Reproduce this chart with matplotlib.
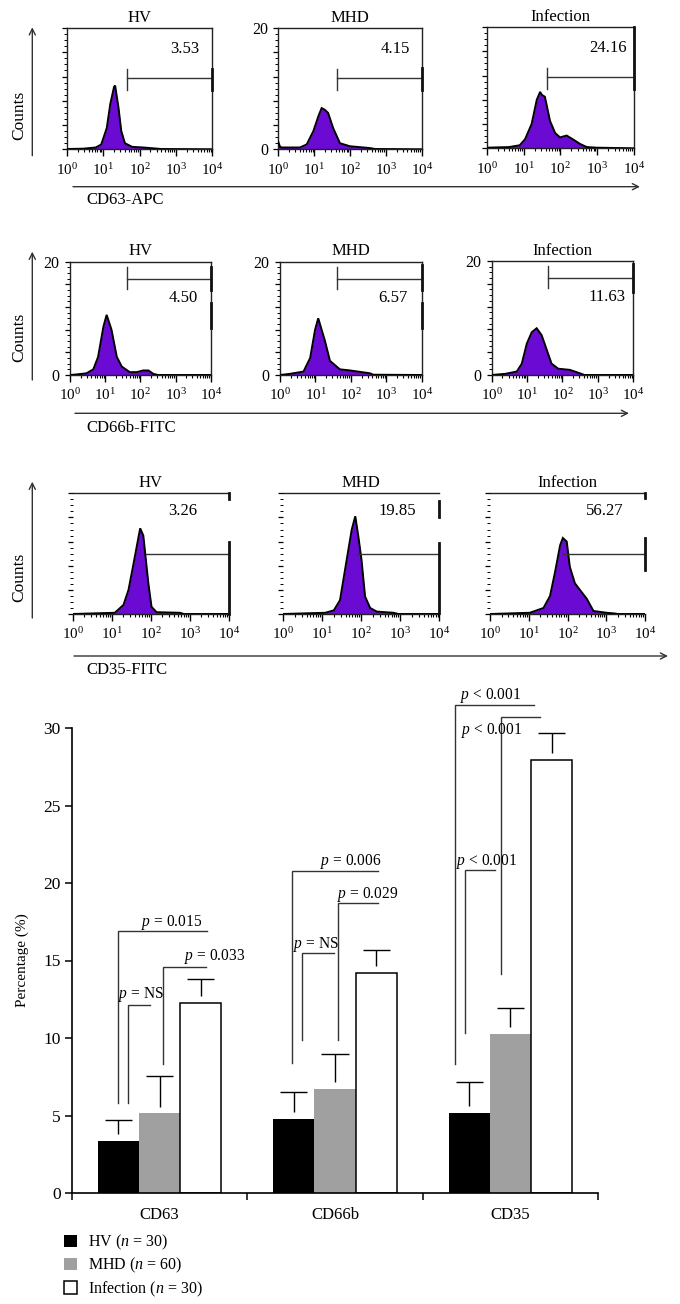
import numpy as np
import matplotlib
matplotlib.use('Agg')
import matplotlib.pyplot as plt
from matplotlib.ticker import FixedLocator, NullFormatter, FixedFormatter, LogLocator

plt.rcParams['font.family'] = ['Liberation Serif', 'DejaVu Serif']
plt.rcParams['mathtext.fontset'] = 'custom'
plt.rcParams['mathtext.rm'] = 'Liberation Serif'
plt.rcParams['mathtext.it'] = 'Liberation Serif:italic'
plt.rcParams['mathtext.bf'] = 'Liberation Serif:bold'

# ---------------- data ----------------
groups = ['HV', 'MHD', 'Infection']
markers = ['CD63', 'CD66b', 'CD35']
channel_labels = ['CD63-APC', 'CD66b-FITC', 'CD35-FITC']
legend_labels = ['HV ($n$ = 30)', 'MHD ($n$ = 60)', 'Infection ($n$ = 30)']

# bar chart: mean percentage and SD (CD63, CD66b, CD35)
hv_mean = [3.37, 4.75, 5.15]
hv_sd = [1.33, 1.77, 2.00]
mhd_mean = [5.13, 6.68, 10.26]
mhd_sd = [2.42, 2.32, 1.70]
inf_mean = [12.25, 14.19, 27.95]
inf_sd = [1.55, 1.46, 1.70]

# gate percentages shown in histograms (HV, MHD, Infection)
cd63_pct = [3.53, 4.15, 24.16]
cd66b_pct = [4.50, 6.57, 11.63]
cd35_pct = [3.26, 19.85, 56.27]

# histogram outlines: fluorescence intensity and counts
cd63_hv_x = [1, 2.8, 6.3, 8.9, 12.6, 15.8, 20, 21.4, 26.3, 31.6, 39.8, 63, 126, 251, 398, 10000]
cd63_hv_y = [0.05, 0.1, 0.3, 0.8, 3.5, 7.5, 10.3, 10.5, 7.0, 3.0, 1.0, 0.4, 0.3, 0.15, 0.05, 0]
cd63_mhd_x = [1, 1.12, 1.26, 4.0, 6.2, 9.5, 13.2, 16.2, 20, 24.5, 33.9, 52.5, 100, 363, 500, 10000]
cd63_mhd_y = [1.2, 0.4, 0.3, 0.3, 0.8, 3.0, 5.5, 6.8, 6.5, 6.0, 3.5, 1.0, 0.5, 0.2, 0.05, 0]
cd63_inf_x = [1, 4, 7.9, 11, 16.6, 22.9, 28.2, 31.6, 38, 52.5, 72.4, 98, 148, 204, 347, 525, 1000, 10000]
cd63_inf_y = [0.1, 0.2, 0.5, 1.5, 4.0, 8.0, 9.3, 8.8, 8.5, 4.5, 2.5, 1.8, 2.1, 1.6, 0.7, 0.2, 0.1, 0]

cd66b_hv_x = [1, 1.55, 2.95, 4.6, 6.3, 8.9, 11, 15.1, 21.4, 29.5, 50, 79, 120, 170, 234, 316, 10000]
cd66b_hv_y = [0, 0.1, 0.3, 1.0, 3.2, 8.5, 10.6, 8.0, 3.2, 1.5, 0.5, 0.5, 0.8, 0.8, 0.2, 0, 0]
cd66b_mhd_x = [1, 1.9, 4.6, 7.1, 9.8, 12, 18.6, 25.7, 49, 95, 158, 347, 427, 10000]
cd66b_mhd_y = [0, 0.2, 0.6, 3.0, 8.0, 10.0, 6.0, 2.5, 1.0, 0.8, 0.6, 0.3, 0.05, 0]
cd66b_inf_x = [1, 2.4, 5.1, 7.1, 9.8, 13.5, 18.6, 25.7, 35.5, 49, 76, 162, 309, 417, 10000]
cd66b_inf_y = [0, 0.2, 0.6, 2.0, 5.5, 7.5, 8.2, 7.0, 4.5, 2.0, 1.1, 0.9, 0.3, 0, 0]

cd35_hv_x = [1, 12, 20, 27, 35.5, 47.9, 53.7, 64.6, 87, 105, 141, 562, 708, 10000]
cd35_hv_y = [0, 0.2, 1.5, 4.0, 8.0, 12.5, 14.2, 13.0, 5.1, 1.2, 0.3, 0.2, 0, 0]
cd35_mhd_x = [1, 12, 20, 28.8, 42.7, 57.5, 70.8, 85, 102, 126, 170, 251, 676, 891, 10000]
cd35_mhd_y = [0, 0.2, 0.6, 2.3, 9.0, 14.0, 16.2, 12.8, 9.0, 2.9, 1.0, 0.4, 0.2, 0, 0]
cd35_inf_x = [1, 10.7, 24, 35.5, 47.9, 64.6, 75.9, 95.5, 115, 155, 209, 316, 468, 1023, 1585, 2000, 10000]
cd35_inf_y = [0, 0.2, 1.0, 3.0, 7.0, 11.4, 12.6, 12.0, 7.8, 5.1, 4.0, 2.5, 0.5, 0.2, 0.1, 0, 0]

# ---------------- figure ----------------
W, H = 680, 1304
fig = plt.figure(figsize=(W / 100, H / 100), dpi=100)
PURPLE = '#6a0ad2'
LINE = '#333333'


def px_axes(l, t, r, b):
    return fig.add_axes([l / W, 1 - b / H, (r - l) / W, (b - t) / H])


# ------------- histogram rows -------------
rows = [
    dict(
        rects=[(66.7, 28, 212.3, 149.3), (278.3, 28, 421.7, 149.3), (486.7, 27, 634, 148.3)],
        data=[(cd63_hv_x, cd63_hv_y), (cd63_mhd_x, cd63_mhd_y), (cd63_inf_x, cd63_inf_y)],
        pct=cd63_pct, ylab=[False, True, False],
        gate_start=[45, 44, 44], gate_y=11.7, gate_tick=(9.7, 13.2),
        right_marks=[[(9.7, 13.2)], [(9.8, 13.4)], [(9.8, 20)]],
        lab_y=16.6, lab_x=[1780, 1820, 2000], full_frame=True),
    dict(
        rects=[(70, 261.5, 210.7, 375), (280, 261.5, 421.7, 375), (491.7, 261, 633.3, 375)],
        data=[(cd66b_hv_x, cd66b_hv_y), (cd66b_mhd_x, cd66b_mhd_y), (cd66b_inf_x, cd66b_inf_y)],
        pct=cd66b_pct, ylab=[True, True, True],
        gate_start=[41, 41, 40], gate_y=17.0, gate_tick=(15.2, 19.1),
        right_marks=[[(15.0, 19.1), (8.2, 12.6)], [(15.0, 19.3), (8.2, 12.6)], [(14.6, 19.4)]],
        lab_y=13.6, lab_x=[1620, 1580, 1780], full_frame=True),
    dict(
        rects=[(72.7, 493.3, 228.7, 614), (283, 493.3, 439.3, 614), (490, 493.3, 645, 614)],
        data=[(cd35_hv_x, cd35_hv_y), (cd35_mhd_x, cd35_mhd_y), (cd35_inf_x, cd35_inf_y)],
        pct=cd35_pct, ylab=[False, False, False],
        gate_start=[76, 78, 75], gate_y=9.95, gate_tick=None,
        right_marks=[[(19.0, 20), (0, 12.0)], [(16.1, 18.8), (0.2, 11.8)], [(19.3, 20), (7.3, 12.6)]],
        lab_y=17.0, lab_x=[676, 832, 933], full_frame=False),
]

for row in rows:
    for i, (rect, (hx, hy)) in enumerate(zip(row['rects'], row['data'])):
        ax = px_axes(*rect)
        ax.fill_between(hx, hy, 0, color=PURPLE, lw=0, zorder=2)
        ax.plot(hx, hy, color='black', lw=1.4, zorder=3, solid_joinstyle='miter')
        ax.set_xscale('log')
        ax.set_xlim(1, 1e4)
        ax.set_ylim(0, 20)
        ax.xaxis.set_major_locator(FixedLocator([1, 10, 100, 1000, 10000]))
        ax.xaxis.set_major_formatter(FixedFormatter(['$10^{0}$', '$10^{1}$', '$10^{2}$', '$10^{3}$', '$10^{4}$']))
        ax.xaxis.set_minor_locator(LogLocator(base=10, subs=np.arange(2, 10), numticks=20))
        ax.xaxis.set_minor_formatter(NullFormatter())
        ax.yaxis.set_major_locator(FixedLocator([0, 4, 8, 12, 16, 20]))
        ax.yaxis.set_minor_locator(FixedLocator(np.arange(0, 20, 1)))
        ax.yaxis.set_minor_formatter(NullFormatter())
        if row['ylab'][i]:
            ax.set_yticklabels(['0', '', '', '', '', '20'])
        else:
            ax.set_yticklabels([''] * 6)
        ax.tick_params(axis='x', which='major', direction='out', length=5, width=1, labelsize=10.8, pad=4)
        ax.tick_params(axis='x', which='minor', direction='out', length=2.5, width=0.8)
        ax.tick_params(axis='y', which='major', direction='out', length=3.5, width=0.9, labelsize=11.5, pad=4)
        ax.tick_params(axis='y', which='minor', direction='out', length=2.2, width=0.7)
        for s in ax.spines.values():
            s.set_linewidth(1.0)
            s.set_color('#222222')
        if not row['full_frame']:
            ax.spines['left'].set_visible(False)
            ax.spines['right'].set_visible(False)
        ax.set_title(groups[i], fontsize=12, pad=4.5)
        # gate marker
        g0 = row['gate_start'][i]
        gy = row['gate_y']
        ax.plot([g0, 1e4], [gy, gy], color=LINE, lw=1.0, clip_on=False, zorder=4)
        if row['gate_tick'] is not None:
            ax.plot([g0, g0], row['gate_tick'], color=LINE, lw=1.0, clip_on=False, zorder=4)
        for (y0, y1) in row['right_marks'][i]:
            ax.plot([1e4, 1e4], [y0, y1], color='#111111', lw=2.0, clip_on=False, zorder=4)
        ax.text(row['lab_x'][i], row['lab_y'], '%.2f' % row['pct'][i], ha='center', va='center',
                fontsize=12)

# overlay in pixel coordinates for arrows and labels
ov = fig.add_axes([0, 0, 1, 1])
ov.set_xlim(0, W)
ov.set_ylim(H, 0)
ov.axis('off')

arrow_kw = dict(arrowstyle='->', lw=1.0, color=LINE, shrinkA=0, shrinkB=0, mutation_scale=11)
x_arrows = [(73, 640, 186.7), (75, 629, 413.3), (74, 668, 656)]
y_arrows = [(32.3, 155.7, 27.3), (32.3, 380, 251.7), (32.3, 618, 481.7)]
name_y = [200, 428.3, 670.5]
counts_y = [115, 337, 577]
for (xa, xb, yy), (cx, ya, yb), ny, cy, nm in zip(x_arrows, y_arrows, name_y, counts_y, channel_labels):
    ov.annotate('', xy=(xb, yy), xytext=(xa, yy), arrowprops=arrow_kw)
    ov.annotate('', xy=(cx, yb), xytext=(cx, ya), arrowprops=arrow_kw)
    ov.text(86, ny, nm, ha='left', va='center', fontsize=12)
    ov.text(19.5, cy, 'Counts', ha='center', va='center', rotation=90, fontsize=12.5)

# ------------- bar chart -------------
axb = px_axes(72, 728, 598, 1193)
xc = np.arange(len(markers)) + 0.5
w = 0.235
b_hv = axb.bar(xc - w, hv_mean, w, color='black', lw=0, label=legend_labels[0], zorder=2)
b_mhd = axb.bar(xc, mhd_mean, w, color='#a0a0a0', lw=0, label=legend_labels[1], zorder=2)
b_inf = axb.bar(xc + w, inf_mean, w, color='white', edgecolor='black', lw=1.1, label=legend_labels[2], zorder=2)

cap = 0.077
gap = 0.45
for off, mean, sd in [(-w, hv_mean, hv_sd), (0, mhd_mean, mhd_sd), (w, inf_mean, inf_sd)]:
    top = np.add(mean, sd)
    axb.vlines(xc + off, np.add(mean, gap), top, color='black', lw=1.0, zorder=3)
    axb.hlines(top, xc + off - cap, xc + off + cap, color='black', lw=1.0, zorder=3)

# significance brackets: (x vertical, y bottom, y top, x right, label, label x, label y)
brackets = [
    (0.261, 5.8, 16.9, 0.770, '$p$ = 0.015', 0.566, 17.25),
    (0.318, 5.8, 12.1, 0.446, '$p$ = NS', 0.394, 12.55),
    (0.518, 8.3, 14.6, 0.764, '$p$ = 0.033', 0.811, 15.0),
    (1.255, 8.4, 20.8, 1.747, '$p$ = 0.006', 1.589, 21.15),
    (1.516, 9.85, 18.72, 1.747, '$p$ = 0.029', 1.686, 19.05),
    (1.313, 9.85, 15.47, 1.493, '$p$ = NS', 1.389, 15.8),
    (2.183, 8.35, 31.5, 2.633, '$p$ < 0.001', 2.386, 31.85),
    (2.446, 14.15, 30.7, 2.669, '$p$ < 0.001', 2.394, 29.6),
    (2.242, 10.32, 20.85, 2.411, '$p$ < 0.001', 2.366, 21.15),
]
for xv, yb, yt, xr, lab, lx, ly in brackets:
    axb.plot([xv, xv, xr], [yb, yt, yt], color=LINE, lw=1.0, clip_on=False, zorder=4,
             solid_joinstyle='miter')
    axb.text(lx, ly, lab, ha='center', va='baseline', fontsize=11.2, zorder=5)

axb.set_xlim(0, 3)
axb.set_ylim(0, 30)
axb.set_yticks([0, 5, 10, 15, 20, 25, 30])
axb.set_xticks([0, 1, 2, 3])
axb.set_xticklabels([])
axb.set_xticks(xc, minor=True)
axb.set_xticklabels(markers, minor=True)
axb.tick_params(axis='x', which='major', direction='out', length=5, width=1.1)
axb.tick_params(axis='x', which='minor', length=0, labelsize=12, pad=10)
axb.tick_params(axis='y', direction='out', length=5, width=1.1, labelsize=12.5, pad=3)
for s in ['top', 'right']:
    axb.spines[s].set_visible(False)
for s in ['left', 'bottom']:
    axb.spines[s].set_linewidth(1.2)
axb.set_ylabel('Percentage (%)', fontsize=11)
axb.yaxis.set_label_coords(-0.081, 0.5)

axb.legend(handles=[b_hv, b_mhd, b_inf], loc='upper left',
           bbox_to_anchor=(64 / W, 1 - 1233 / H), bbox_transform=fig.transFigure,
           frameon=False, fontsize=11.5, handlelength=0.8, handleheight=0.8,
           handletextpad=0.7, labelspacing=0.25, borderpad=0, borderaxespad=0)

fig.savefig('out.png', dpi=100)
